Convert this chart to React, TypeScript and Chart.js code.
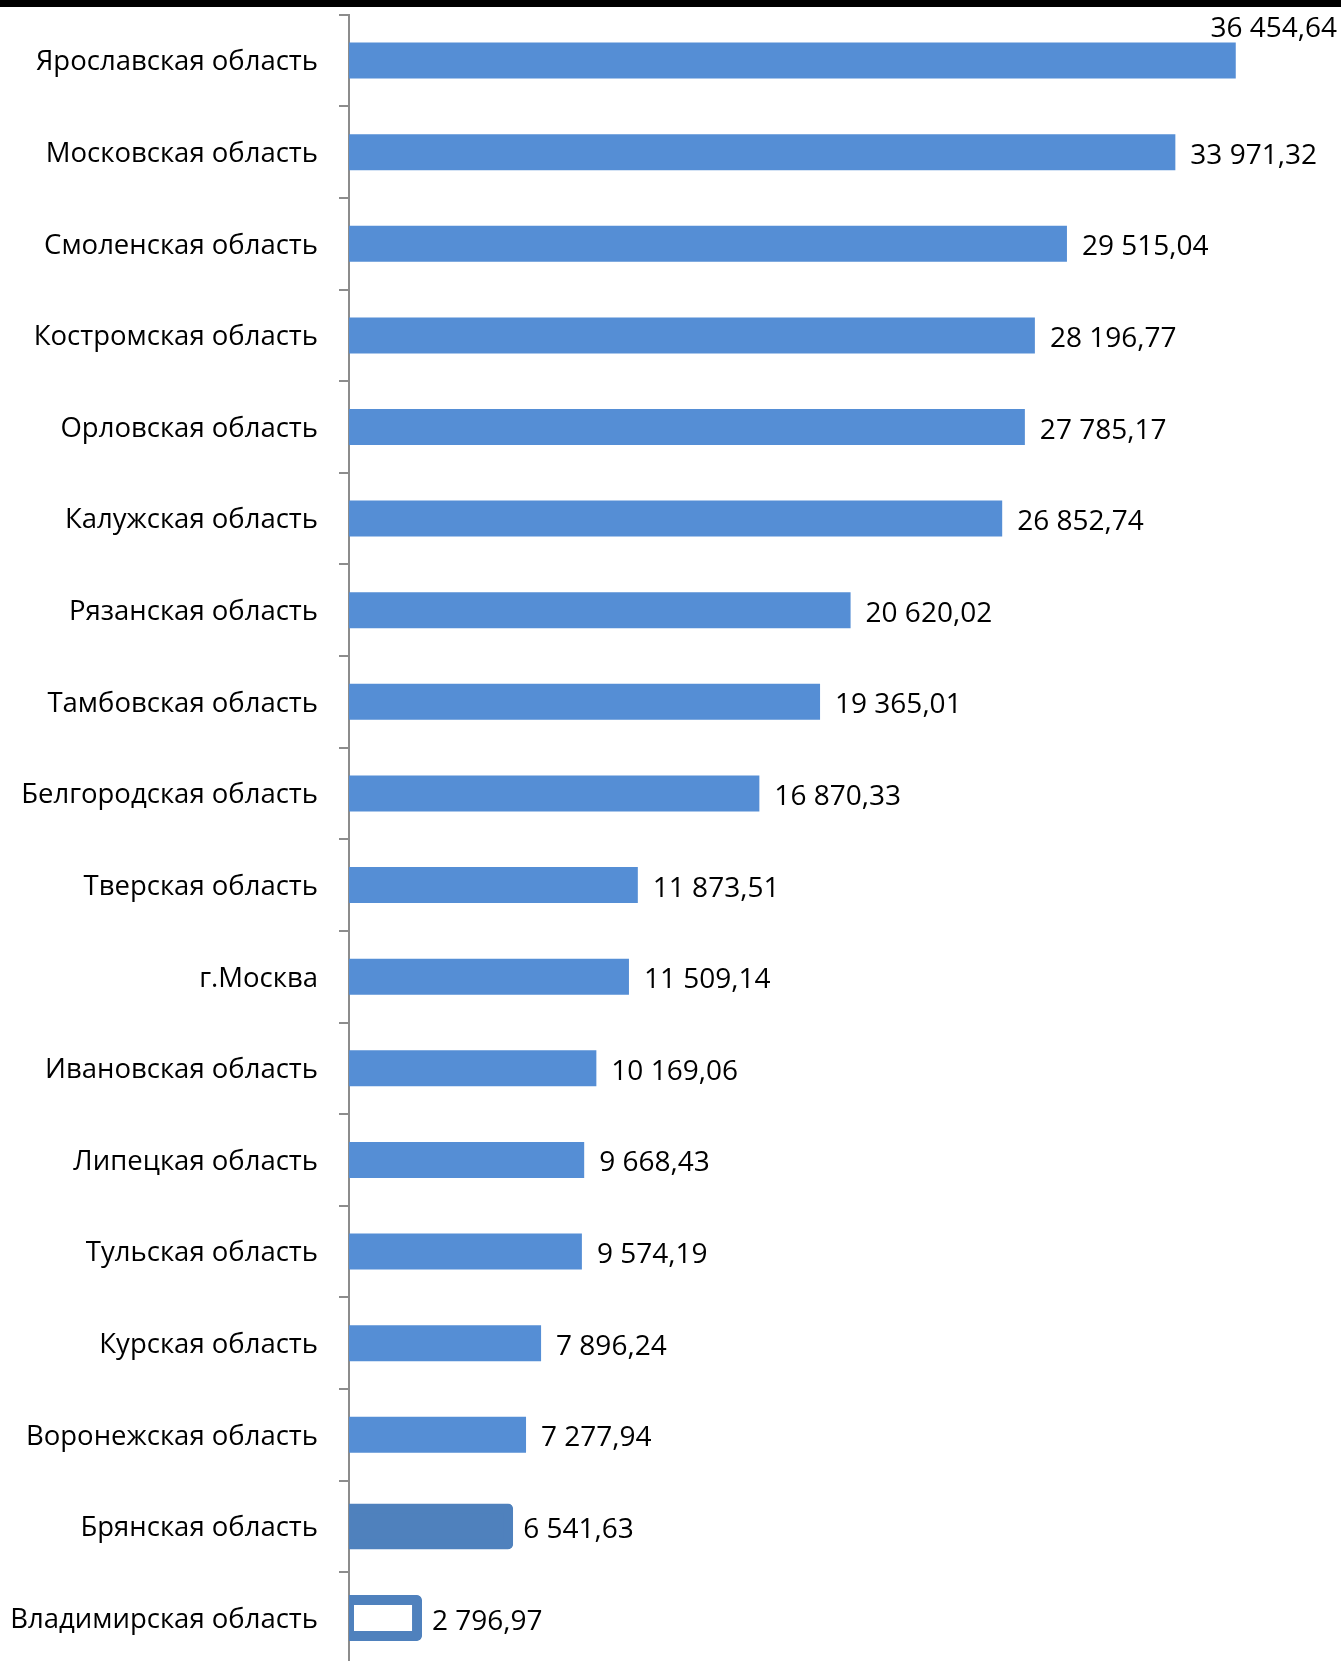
import React, { useEffect, useRef } from "react";
import { Chart, registerables } from "chart.js";

Chart.register(...registerables);

const categories = [
  "Ярославская область",
  "Московская область",
  "Смоленская область",
  "Костромская область",
  "Орловская область",
  "Калужская область",
  "Рязанская область",
  "Тамбовская область",
  "Белгородская область",
  "Тверская область",
  "г.Москва",
  "Ивановская область",
  "Липецкая область",
  "Тульская область",
  "Курская область",
  "Воронежская область",
  "Брянская область",
  "Владимирская область",
];

const values = [
  36454.64, 33971.32, 29515.04, 28196.77, 27785.17, 26852.74, 20620.02,
  19365.01, 16870.33, 11873.51, 11509.14, 10169.06, 9668.43, 9574.19,
  7896.24, 7277.94, 6541.63, 2796.97,
];

const xMin = 0;
const xMax = 40000;

const FONT = "'Open Sans', 'DejaVu Sans', sans-serif";
const BASE = "#558ed5";
const DARK = "#4f81bd";

function fmt(v: number): string {
  const [int, dec] = v.toFixed(2).split(".");
  const grouped = int.replace(/\B(?=(\d{3})+(?!\d))/g, " ");
  return grouped + "," + dec;
}

const valueLabels = {
  id: "valueLabels",
  afterDatasetsDraw(chart: any) {
    const ctx = chart.ctx;
    const meta = chart.getDatasetMeta(0);
    const xs = chart.scales.x;
    ctx.save();
    ctx.font = `28px ${FONT}`;
    ctx.fillStyle = "#000";
    ctx.textBaseline = "alphabetic";
    meta.data.forEach((bar: any, i: number) => {
      const v = chart.data.datasets[0].data[i];
      const txt = fmt(v);
      const w = ctx.measureText(txt).width;
      let x = xs.getPixelForValue(v) + 15;
      let y = bar.y + 11.5;
      if (x + w > chart.width - 2) {
        ctx.textAlign = "right";
        x = chart.width - 4;
        y = bar.y - 23.6;
      } else {
        ctx.textAlign = "left";
      }
      ctx.fillText(txt, x, y);
    });
    ctx.restore();
  },
};

export default function App() {
  const ref = useRef<HTMLCanvasElement>(null);

  useEffect(() => {
    document.body.style.margin = "0";
    const n = categories.length;
    const bg = categories.map((_, i) => (i === n - 1 ? "#ffffff" : i === n - 2 ? DARK : BASE));
    const bc = categories.map((_, i) => (i >= n - 2 ? DARK : BASE));
    const bw = categories.map((_, i) => (i >= n - 2 ? 10 : 0));
    const infl = categories.map((_, i) => (i >= n - 2 ? 5 : 0));
    const rad = categories.map((_, i) => (i >= n - 2 ? 5 : 0));

    const chart = new Chart(ref.current!, {
      type: "bar",
      data: {
        labels: categories,
        datasets: [
          {
            data: values,
            backgroundColor: bg,
            borderColor: bc,
            borderWidth: bw,
            inflateAmount: infl as any,
            borderRadius: rad,
            borderSkipped: false,
            barThickness: 36,
            clip: { left: 0, top: false, right: false, bottom: false } as any,
          },
        ],
      },
      options: {
        indexAxis: "y",
        animation: false,
        responsive: false,
        maintainAspectRatio: false,
        layout: { padding: { top: 14.7, right: 19, bottom: 16.1, left: 0 } },
        plugins: {
          legend: { display: false },
          tooltip: { enabled: false },
        },
        scales: {
          x: { display: false, min: xMin, max: xMax },
          y: {
            afterFit(scale: any) {
              scale.width = 349;
              scale.paddingTop = 0;
              scale.paddingBottom = 0;
            },
            grid: {
              display: true,
              drawOnChartArea: false,
              drawTicks: true,
              tickLength: 10,
              offset: true,
              color: "#8c8c8c",
              lineWidth: 2,
            },
            border: { display: true, color: "#8c8c8c", width: 2 },
            ticks: {
              color: "#000",
              padding: 21,
              labelOffset: 2,
              font: { family: FONT, size: 27.5 },
            },
          },
        },
      },
      plugins: [valueLabels],
    });
    return () => chart.destroy();
  }, []);

  return (
    <div style={{ position: "absolute", left: 0, top: 0, width: 1341, height: 1661, overflow: "hidden", background: "#fff" }}>
      <canvas ref={ref} width={1341} height={1680} style={{ display: "block" }} />
      <div style={{ position: "absolute", left: 0, top: 0, width: 1341, height: 7, background: "#000" }} />
    </div>
  );
}
